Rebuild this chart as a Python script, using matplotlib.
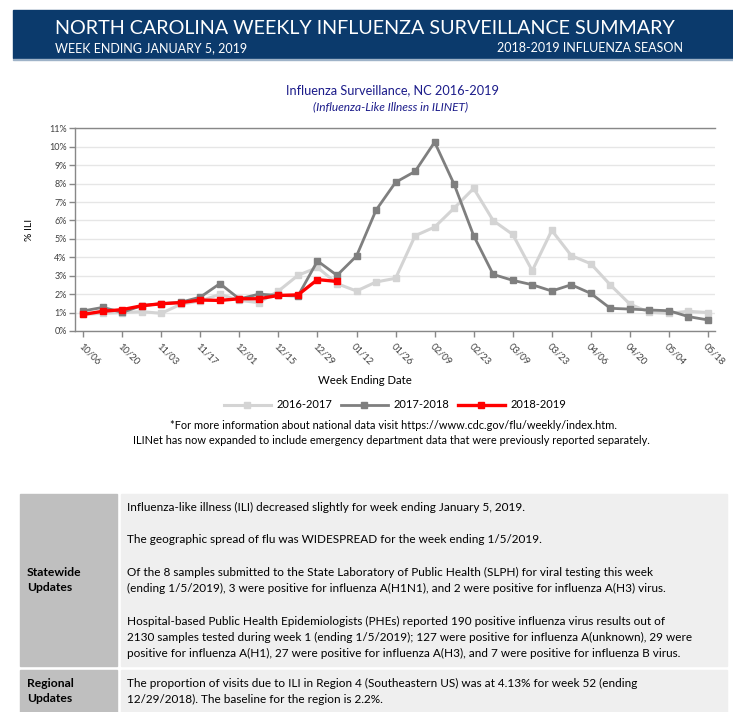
import matplotlib
matplotlib.use("Agg")
import matplotlib.pyplot as plt
from matplotlib.patches import Rectangle
import numpy as np

plt.rcParams['font.family'] = ['Lato', 'DejaVu Sans']

# === Data ===
weeks = ['10/06', '10/13', '10/20', '10/27', '11/03', '11/10', '11/17', '11/24',
         '12/01', '12/08', '12/15', '12/22', '12/29', '01/05', '01/12', '01/19',
         '01/26', '02/02', '02/09', '02/16', '02/23', '03/02', '03/09', '03/16',
         '03/23', '03/30', '04/06', '04/13', '04/20', '04/27', '05/04', '05/11', '05/18']

ili_2016 = [0.90, 0.96, 1.00, 1.05, 0.96, 1.45, 1.63, 1.99, 1.66, 1.54, 2.17, 3.02,
            3.45, 2.57, 2.17, 2.66, 2.86, 5.17, 5.64, 6.67, 7.74, 5.99, 5.24, 3.27,
            5.46, 4.09, 3.65, 2.50, 1.46, 1.01, 0.96, 1.07, 1.00]
ili_2017 = [1.09, 1.28, 1.01, 1.38, 1.48, 1.56, 1.84, 2.57, 1.74, 2.00, 1.93, 1.90,
            3.80, 3.02, 4.07, 6.56, 8.07, 8.66, 10.25, 7.96, 5.17, 3.07, 2.75, 2.51,
            2.17, 2.51, 2.04, 1.23, 1.19, 1.14, 1.10, 0.78, 0.60]
ili_2018 = [0.90, 1.07, 1.16, 1.37, 1.48, 1.54, 1.68, 1.66, 1.75, 1.75, 1.93, 1.96,
            2.79, 2.69]

season_labels = ['2016-2017', '2017-2018', '2018-2019']

statewide_lines = [
    "Influenza-like illness (ILI) decreased slightly for week ending January 5, 2019.",
    "",
    "The geographic spread of flu was WIDESPREAD for the week ending 1/5/2019.",
    "",
    "Of the 8 samples submitted to the State Laboratory of Public Health (SLPH) for viral testing this week",
    "(ending 1/5/2019), 3 were positive for influenza A(H1N1), and 2 were positive for influenza A(H3) virus.",
    "",
    "Hospital-based Public Health Epidemiologists (PHEs) reported 190 positive influenza virus results out of",
    "2130 samples tested during week 1 (ending 1/5/2019); 127 were positive for influenza A(unknown), 29 were",
    "positive for influenza A(H1), 27 were positive for influenza A(H3), and 7 were positive for influenza B virus.",
]
regional_lines = [
    "The proportion of visits due to ILI in Region 4 (Southeastern US) was at 4.13% for week 52 (ending",
    "12/29/2018). The baseline for the region is 2.2%.",
]

W, H = 733, 712
fig = plt.figure(figsize=(W / 100, H / 100), dpi=100)


def fx(px):
    return px / W


def fy(py):
    return 1 - py / H


# === Header banner ===
navy = '#0b3a6c'
fig.patches.append(Rectangle((fx(13), fy(58)), fx(733 - 13), 48 / H,
                             transform=fig.transFigure, color=navy, zorder=0))
fig.patches.append(Rectangle((fx(13), fy(60)), fx(733 - 13), 1.5 / H,
                             transform=fig.transFigure, color='#9fb3c8', zorder=0))
fig.text(fx(55), fy(34), "NORTH CAROLINA WEEKLY INFLUENZA SURVEILLANCE SUMMARY",
         color='white', fontsize=14.2, va='baseline', ha='left')
fig.text(fx(55), fy(52), "WEEK ENDING JANUARY 5, 2019",
         color='white', fontsize=9, va='baseline', ha='left')
fig.text(fx(683), fy(52), "2018-2019 INFLUENZA SEASON",
         color='white', fontsize=9, va='baseline', ha='right')

# === Chart titles ===
title_col = '#1c1c8a'
fig.text(fx(392), fy(90), "Influenza Surveillance, NC 2016-2019",
         color=title_col, fontsize=9.2, ha='center', va='center')
fig.text(fx(391), fy(107), "(Influenza-Like Illness in ILINET)",
         color=title_col, fontsize=8.6, style='italic', ha='center', va='center')

# === Chart ===
ax = fig.add_axes([fx(75), fy(331), fx(715 - 75), (331 - 128.3) / H])
x = np.arange(len(weeks))
ax.plot(x, ili_2016, color='#d4d4d4', lw=2.2, marker='s', ms=4.5, label=season_labels[0], zorder=2)
ax.plot(x[:len(ili_2017)], ili_2017, color='#7f7f7f', lw=2.0, marker='s', ms=4.5, label=season_labels[1], zorder=3)
ax.plot(x[:len(ili_2018)], ili_2018, color='#ff0000', lw=2.4, marker='s', ms=4.5, label=season_labels[2], zorder=4)

ax.set_xlim(-0.42, len(weeks) - 1 + 0.36)
ax.set_ylim(0, 11)
ax.set_yticks(np.arange(0, 12))
ax.set_yticklabels([f"{v}%" for v in range(12)], fontsize=6.5, color='#404040')
ax.set_xticks(x[::2])
ax.set_xticklabels(weeks[::2], rotation=-45, ha='left', va='top',
                   rotation_mode='anchor', fontsize=6.8, color='#404040')
ax.grid(axis='y', color='#e6e6e6', lw=1)
ax.set_axisbelow(True)
ax.spines['right'].set_visible(False)
for side in ['left', 'bottom', 'top']:
    ax.spines[side].set_color('#888888')
    ax.spines[side].set_linewidth(1)
ax.tick_params(axis='both', colors='#888888', length=4, width=1, labelcolor='#404040')
ax.tick_params(axis='x', pad=4)
ax.tick_params(axis='y', pad=2)

fig.text(fx(30), fy(230), "% ILI", rotation=90, fontsize=7.5, ha='center', va='center')
fig.text(fx(365), fy(380), "Week Ending Date", fontsize=8.2, ha='center', va='center')

fig.legend(loc='center', bbox_to_anchor=(fx(395), fy(405)), ncol=3, frameon=False,
           fontsize=8, handlelength=4.2, columnspacing=0.8, handletextpad=0.5)

# === Notes ===
fig.text(fx(393), fy(425),
         "*For more information about national data visit https://www.cdc.gov/flu/weekly/index.htm.",
         fontsize=7.9, ha='center', va='center')
fig.text(fx(391), fy(441),
         "ILINet has now expanded to include emergency department data that were previously reported separately.",
         fontsize=7.9, ha='center', va='center')

# === Table ===
left_gray = '#bfbfbf'
right_gray = '#efefef'
rows = [(494, 666, "Statewide\nUpdates", statewide_lines, 580),
        (670, 712, "Regional\nUpdates", regional_lines, 691)]
for top, bot, head, lines, head_y in rows:
    fig.patches.append(Rectangle((fx(20), fy(bot)), fx(117 - 20), (bot - top) / H,
                                 transform=fig.transFigure, color=left_gray, zorder=0))
    fig.patches.append(Rectangle((fx(121), fy(bot)), fx(727 - 121), (bot - top) / H,
                                 transform=fig.transFigure, color=right_gray, zorder=0))
    fig.text(fx(27), fy(head_y), head, fontsize=8.7, weight='bold', ha='left', va='center',
             linespacing=1.35)
    for i, line in enumerate(lines):
        fig.text(fx(127), fy(top + 13 + 16.3 * i), line, fontsize=8.5, ha='left', va='center')

fig.savefig('out.png', dpi=100)
